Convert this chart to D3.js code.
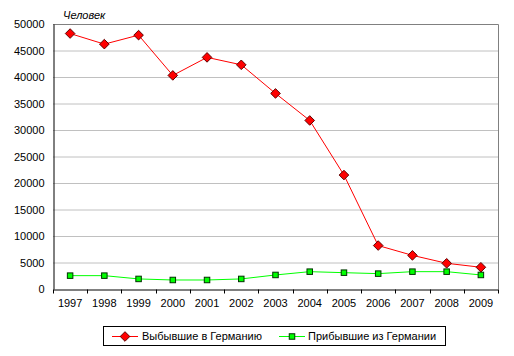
<!DOCTYPE html>
<html><head><meta charset="utf-8">
<script src="https://cdn.jsdelivr.net/npm/d3@7"></script>
<style>body{margin:0;background:#fff}svg{display:block;font-family:"Liberation Sans",Arial,sans-serif}</style>
</head><body>
<script>
const years = ["1997","1998","1999","2000","2001","2002","2003","2004","2005","2006","2007","2008","2009"];
const departed = [48200,46200,47900,40300,43700,42300,36900,31800,21500,8200,6350,4850,4100];
const arrived = [2520,2520,1900,1700,1700,1900,2650,3270,3080,2900,3270,3270,2650];
const yTicks = [0,5000,10000,15000,20000,25000,30000,35000,40000,45000,50000];
const seriesNames = ["Выбывшие в Германию","Прибывшие из Германии"];
const unitLabel = "Человек";

const W=514,H=356, L=53, R=498, T=24, B=289;
const svg=d3.select("body").append("svg").attr("width",W).attr("height",H);
const x=d3.scaleBand().domain(years).range([L,R]);
const y=d3.scaleLinear().domain([0,50000]).range([B,T]);

// gridlines
svg.append("g").selectAll("line").data(yTicks.filter(d=>d>0)).join("line")
 .attr("x1",L).attr("x2",R).attr("y1",d=>y(d)+0.5).attr("y2",d=>y(d)+0.5)
 .attr("stroke","#c0c0c0");
// border top/right
svg.append("path").attr("d",`M${L},${T+0.5}H${R+0.5}V${B}`).attr("fill","none").attr("stroke","#808080");

// y axis
const ya=svg.append("g").attr("transform",`translate(${L+0.5},0)`)
 .call(d3.axisLeft(y).tickValues(yTicks).tickSize(0).tickPadding(9).tickFormat(d=>String(d)));
ya.select(".domain").attr("stroke","#000");
ya.selectAll("text").attr("font-size",11).attr("fill","#000").attr("font-family","Liberation Sans, Arial, sans-serif");
// x axis
const xa=svg.append("g").attr("transform",`translate(0,${B+0.5})`)
 .call(d3.axisBottom(x).tickSize(0).tickPadding(10));
xa.select(".domain").attr("stroke","#000");
xa.selectAll("text").attr("font-size",11).attr("fill","#000").attr("font-family","Liberation Sans, Arial, sans-serif");
xa.selectAll(".boundary").data(years.concat(["end"])).join("line")
 .attr("x1",(d,i)=>Math.round(L+i*x.step())+0.5).attr("x2",(d,i)=>Math.round(L+i*x.step())+0.5)
 .attr("y1",0).attr("y2",4).attr("stroke","#000");

svg.append("text").attr("x",63).attr("y",19).attr("font-size",11).attr("font-style","italic").text(unitLabel);

const cx=d=>x(d)+x.bandwidth()/2;
const line=d3.line().x((d,i)=>cx(years[i])).y(d=>y(d));
svg.append("path").datum(arrived).attr("d",line).attr("fill","none").attr("stroke","#00ff00").attr("stroke-width",1);
svg.append("path").datum(departed).attr("d",line).attr("fill","none").attr("stroke","#ff0000").attr("stroke-width",1);

const sq=5.5, dm=4.8;
svg.append("g").selectAll("rect").data(arrived).join("rect")
 .attr("x",(d,i)=>cx(years[i])-sq/2).attr("y",d=>y(d)-sq/2).attr("width",sq).attr("height",sq)
 .attr("fill","#00ff00").attr("stroke","#003300").attr("stroke-width",1);
const diamond=(px,py)=>`M${px},${py-dm}L${px+dm},${py}L${px},${py+dm}L${px-dm},${py}Z`;
svg.append("g").selectAll("path").data(departed).join("path")
 .attr("d",(d,i)=>diamond(cx(years[i]),y(d)))
 .attr("fill","#ff0000").attr("stroke","#600000").attr("stroke-width",1);

// legend
const lg=svg.append("g");
lg.append("rect").attr("x",103.5).attr("y",326.5).attr("width",342).attr("height",19).attr("fill","#fff").attr("stroke","#000");
const ly=336;
lg.append("line").attr("x1",112).attr("x2",138).attr("y1",ly+0.5).attr("y2",ly+0.5).attr("stroke","#ff0000");
lg.append("path").attr("d",diamond(125,ly+0.5)).attr("fill","#ff0000").attr("stroke","#600000");
lg.append("text").attr("x",142).attr("y",ly+4).attr("font-size",11).text(seriesNames[0]);
lg.append("line").attr("x1",279).attr("x2",305).attr("y1",ly+0.5).attr("y2",ly+0.5).attr("stroke","#00ff00");
lg.append("rect").attr("x",292-sq/2).attr("y",ly+0.5-sq/2).attr("width",sq).attr("height",sq).attr("fill","#00ff00").attr("stroke","#003300");
lg.append("text").attr("x",308).attr("y",ly+4).attr("font-size",11).text(seriesNames[1]);
</script>
</body></html>
